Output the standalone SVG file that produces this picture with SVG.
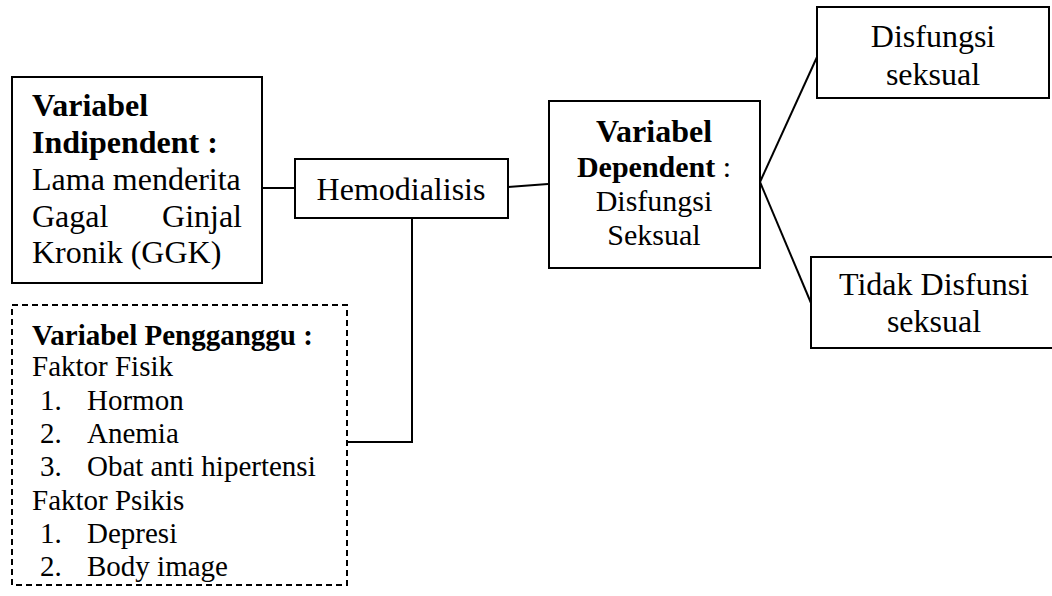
<svg xmlns="http://www.w3.org/2000/svg" width="1052" height="596" viewBox="0 0 1052 596">
<style>
.box{fill:#fff;stroke:#000;stroke-width:2}
.dash{fill:#fff;stroke:#000;stroke-width:2;stroke-dasharray:6 4}
.t{font-family:"Liberation Serif","Times New Roman",serif;fill:#000}
.b{font-weight:bold}
.c{text-anchor:middle}
.ln{stroke:#000;stroke-width:2;fill:none}
</style>
<rect width="1052" height="596" fill="#fff"/>
<g id="connectors">
<line class="ln" x1="262" y1="188" x2="295" y2="188"/>
<line class="ln" x1="508" y1="187" x2="548" y2="184"/>
<polyline class="ln" points="412,218 412,442 347,442"/>
<line class="ln" x1="760" y1="182" x2="817" y2="57"/>
<line class="ln" x1="760" y1="182" x2="811" y2="303"/>
</g>
<g id="independent">
<rect class="box" x="12" y="77" width="250" height="206"/>
<text class="t b" x="32" y="116" font-size="32">Variabel</text>
<text class="t b" x="32" y="153" font-size="32">Indipendent :</text>
<text class="t" x="32" y="190" font-size="32">Lama menderita</text>
<text class="t" x="32" y="227" font-size="32">Gagal</text>
<text class="t" x="242" y="227" font-size="32" text-anchor="end">Ginjal</text>
<text class="t" x="32" y="263" font-size="32">Kronik (GGK)</text>
</g>
<g id="hemodialisis">
<rect class="box" x="295" y="159" width="213" height="59"/>
<text class="t c" x="401" y="200" font-size="32">Hemodialisis</text>
</g>
<g id="pengganggu">
<rect class="dash" x="12" y="305" width="335" height="280"/>
<g class="t" font-size="29">
<text class="b" x="32" y="345">Variabel Pengganggu :</text>
<text x="32" y="376">Faktor Fisik</text>
<text x="40" y="410">1.</text><text x="87" y="410">Hormon</text>
<text x="40" y="443">2.</text><text x="87" y="443">Anemia</text>
<text x="40" y="476">3.</text><text x="87" y="476">Obat anti hipertensi</text>
<text x="32" y="510">Faktor Psikis</text>
<text x="40" y="543">1.</text><text x="87" y="543">Depresi</text>
<text x="40" y="576">2.</text><text x="87" y="576">Body image</text>
</g>
</g>
<g id="dependent">
<rect class="box" x="549" y="101" width="211" height="167"/>
<g class="t c" font-size="30">
<text x="654" y="142" class="b" font-size="32">Variabel</text>
<text x="654" y="177"><tspan class="b">Dependent</tspan> :</text>
<text x="654" y="211">Disfungsi</text>
<text x="654" y="245">Seksual</text>
</g>
</g>
<g id="disfungsi">
<rect class="box" x="817" y="7" width="232" height="91"/>
<g class="t c" font-size="32">
<text x="933" y="47">Disfungsi</text>
<text x="933" y="85">seksual</text>
</g>
</g>
<g id="tidak">
<rect class="box" x="811" y="257" width="250" height="91"/>
<g class="t c" font-size="32">
<text x="934" y="295">Tidak Disfunsi</text>
<text x="934" y="332">seksual</text>
</g>
</g>
</svg>
